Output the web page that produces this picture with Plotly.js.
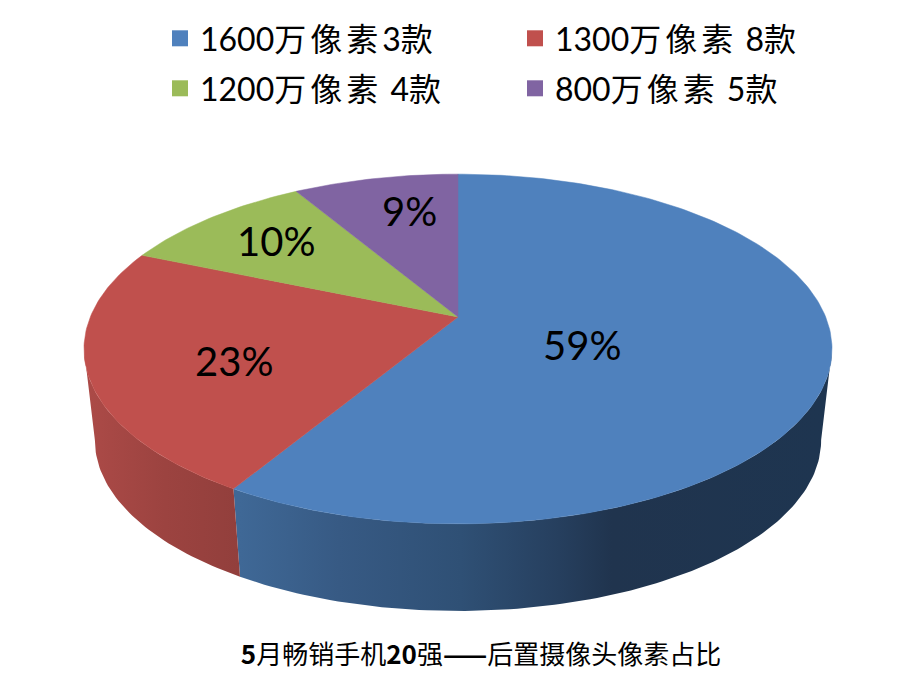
<!DOCTYPE html>
<html><head><meta charset="utf-8">
<script src="https://cdn.plot.ly/plotly-3.0.1.min.js"></script>
<style>html,body{margin:0;padding:0;background:#fff}#c{width:904px;height:693px}</style>
</head><body><div id="c"></div>
<script>
// DATA
const seriesNames = ['1600万\u2009像\u2009素\u20093款','1300万\u2009像\u2009素 \u20098款','1200万\u2009像\u2009素 \u20094款','800万\u2009像\u2009素 \u20095款'];
const seriesValues = [58.9, 22.9, 10.15, 8.55];
const percentLabels = ['59%','23%','10%','9%'];
const topColors = ['#4F81BD','#C0504D','#9BBB59','#8064A2'];
const chartTitle = '<b>5</b>月畅销手机<b>20</b>强<b>——</b>后置摄像头像素占比';

// GEOMETRY of the tilted disc (plot units = pixels)
const CX = 458, K = 0.183;
const TOP = {a:367.7, b:169, y0:317};
const BOT = {a:357, b:165, y0:409};
const rad = d => d*Math.PI/180;
function proj(deg, g){
  const u = Math.sin(rad(deg)), v = -Math.cos(rad(deg)), w = 1-K*v;
  return [CX + g.a*u/w, g.y0 + g.b*v/w];
}
function arc(d0, d1, g){
  const pts=[]; const n=Math.max(2,Math.ceil(Math.abs(d1-d0)));
  for(let i=0;i<=n;i++) pts.push(proj(d0+(d1-d0)*i/n,g));
  return pts;
}
const total = seriesValues.reduce((a,b)=>a+b,0);
const traces=[];
let cum=0; const spans=seriesValues.map(v=>{const s=[cum/total*360,(cum+v)/total*360];cum+=v;return s;});

// visible side walls
const VIS0 = 100.5, VIS1 = 259.5;
const wallGrad = [
 [[0,'#3F6896'],[0.17,'#375A84'],[0.38,'#2F5075'],[0.55,'#263F5E'],[0.64,'#20344E'],[1,'#1E3550']],
 [[0,'#AB4A47'],[0.5,'#9C4340'],[1,'#923F3C']]
];
spans.forEach((s,i)=>{
  const d0=Math.max(s[0],VIS0), d1=Math.min(s[1],VIS1);
  if(d1<=d0) return;
  const pts=arc(d0,d1,TOP).concat(arc(d1,d0,BOT));
  pts.push(pts[0]);
  const xs=pts.map(p=>p[0]);
  traces.push({type:'scatter',mode:'lines',x:xs,y:pts.map(p=>p[1]),fill:'toself',
    line:{width:0,color:'rgba(0,0,0,0)'},hoverinfo:'skip',showlegend:false,
    fillgradient:{type:'horizontal',colorscale:wallGrad[i],
      start:i===0?240:90, stop:i===0?821:240}});
});
// top wedges
spans.forEach((s,i)=>{
  const pts=[[CX,TOP.y0]].concat(arc(s[0],s[1],TOP)); pts.push([CX,TOP.y0]);
  traces.push({type:'scatter',mode:'lines',x:pts.map(p=>p[0]),y:pts.map(p=>p[1]),fill:'toself',
    fillcolor:topColors[i],line:{width:0.5,color:topColors[i]},
    hoverinfo:'text',text:percentLabels[i],showlegend:false});
});
// legend entries, one legend per entry for exact grid placement
const legendIds=['legend','legend2','legend3','legend4'];
seriesNames.forEach((n,i)=>{
  traces.push({type:'scatter',mode:'markers',x:[null],y:[null],name:n,legend:legendIds[i],
    marker:{symbol:'square',size:16,color:topColors[i]},showlegend:true});
});
const legFont={family:'Lato, "Noto Sans CJK SC", sans-serif',size:32,color:'#000'};
const legPos=[[160,11],[515,11],[160,61],[515,61]];
const layout={
  width:904,height:693,margin:{l:0,r:0,t:0,b:0},
  paper_bgcolor:'#fff',plot_bgcolor:'#fff',
  xaxis:{range:[0,904],visible:false,fixedrange:true},
  yaxis:{range:[693,0],visible:false,fixedrange:true},
  title:{text:chartTitle,x:481/904,y:1-655/693,xanchor:'center',yanchor:'middle',
    font:{family:'"Noto Sans CJK SC", sans-serif',size:26,color:'#000'}},
  annotations:[[582,345],[234,361],[276,241],[409,211]].map((p,i)=>({
    x:p[0],y:p[1],xref:'x',yref:'y',text:percentLabels[i],showarrow:false,
    font:{family:'Lato, sans-serif',size:40,color:'#000'}}))
};
legendIds.forEach((id,i)=>{
  layout[id]={x:legPos[i][0]/904,y:1-legPos[i][1]/693,xanchor:'left',yanchor:'top',
    orientation:'h',font:legFont,itemwidth:30,bgcolor:'rgba(0,0,0,0)',borderwidth:0};
});
Plotly.newPlot('c',traces,layout,{staticPlot:true,displayModeBar:false});
</script></body></html>
